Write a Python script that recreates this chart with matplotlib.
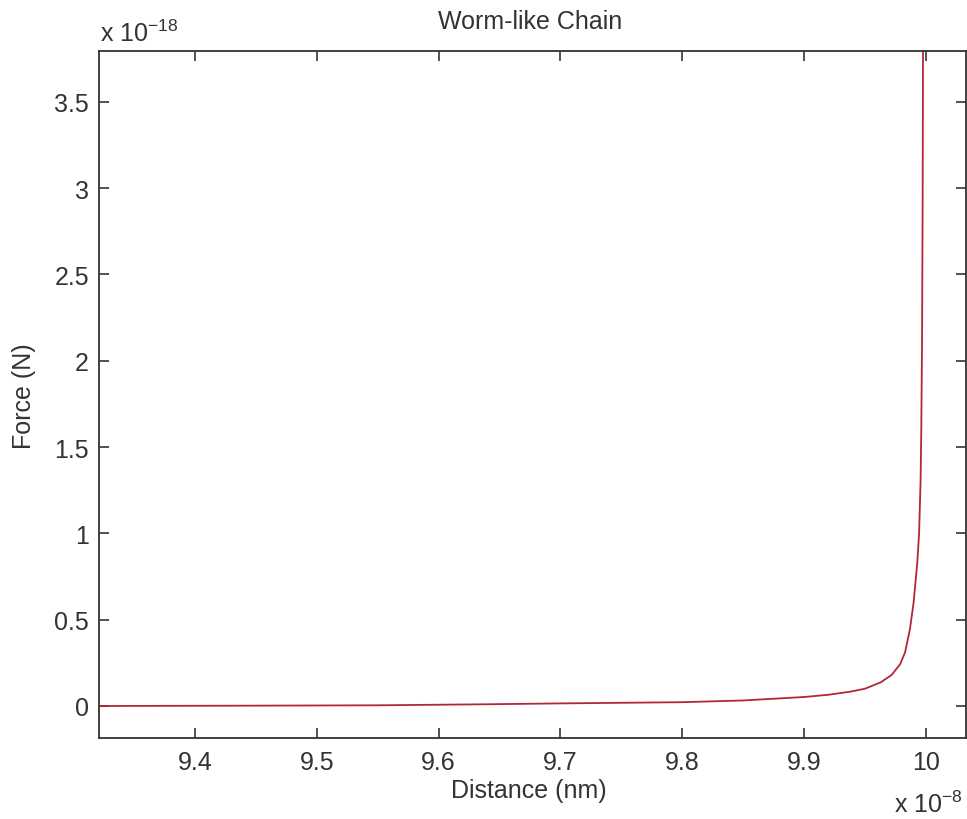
import matplotlib
matplotlib.use("Agg")
import matplotlib.pyplot as plt

# Data (x in units of 1e-8 m, force in units of 1e-18 N)
distance = [9.321, 9.45, 9.55, 9.64, 9.70, 9.80, 9.85, 9.90, 9.92, 9.938, 9.95,
            9.963, 9.972, 9.979, 9.983, 9.987, 9.990, 9.993, 9.9945, 9.9957,
            9.9963, 9.9969, 9.9974, 9.9977, 9.9979]
force = [0.0, 0.002, 0.004, 0.010, 0.015, 0.022, 0.032, 0.052, 0.065, 0.083, 0.100,
         0.137, 0.18, 0.243, 0.311, 0.446, 0.60, 0.83, 1.0, 1.3,
         1.6, 2.1, 2.9, 3.79, 4.0]

xticks = [9.4, 9.5, 9.6, 9.7, 9.8, 9.9, 10.0]
xticklabels = ["9.4", "9.5", "9.6", "9.7", "9.8", "9.9", "10"]
yticks = [0, 0.5, 1, 1.5, 2, 2.5, 3, 3.5]
yticklabels = ["0", "0.5", "1", "1.5", "2", "2.5", "3", "3.5"]

plt.rcParams['font.family'] = ['Liberation Sans', 'DejaVu Sans']
plt.rcParams['mathtext.fontset'] = 'custom'
plt.rcParams['mathtext.rm'] = 'Liberation Sans'

FS = 18
TC = '#333333'
W, H = 967, 820

fig = plt.figure(figsize=(W / 100, H / 100), dpi=100)
ax = fig.add_axes([98.7 / W, (H - 738.5) / H, (966 - 98.7) / W, (738.5 - 52.3) / H])
ax.plot(distance, force, color='#b02838', linewidth=1.3)
ax.set_xlim(9.321, 10.033)
ax.set_ylim(-0.1825, 3.792)
ax.set_xticks(xticks)
ax.set_xticklabels(xticklabels)
ax.set_yticks(yticks)
ax.set_yticklabels(yticklabels)
ax.tick_params(direction='in', length=7, width=1.2, labelsize=FS, colors=TC,
               top=True, right=True)
ax.tick_params(axis='x', pad=9)
ax.tick_params(axis='y', pad=7)
for s in ax.spines.values():
    s.set_linewidth(1.3)
    s.set_color('#333333')

fig.text(530 / W, 1 - 22 / H, "Worm-like Chain", fontsize=FS, color=TC,
         ha='center', va='center')
fig.text(529 / W, 1 - 791 / H, "Distance (nm)", fontsize=FS, color=TC,
         ha='center', va='center')
fig.text(24 / W, 1 - 396 / H, "Force (N)", fontsize=FS, color=TC,
         ha='center', va='center', rotation=90)

fig.text(100 / W, 1 - 42 / H, r"x $\mathregular{10^{-18}}$", fontsize=FS, color=TC,
         ha='left', va='baseline')
fig.text(963 / W, 1 - 813 / H, r"x $\mathregular{10^{-8}}$", fontsize=FS, color=TC,
         ha='right', va='baseline')

fig.savefig("out.png", dpi=100)
